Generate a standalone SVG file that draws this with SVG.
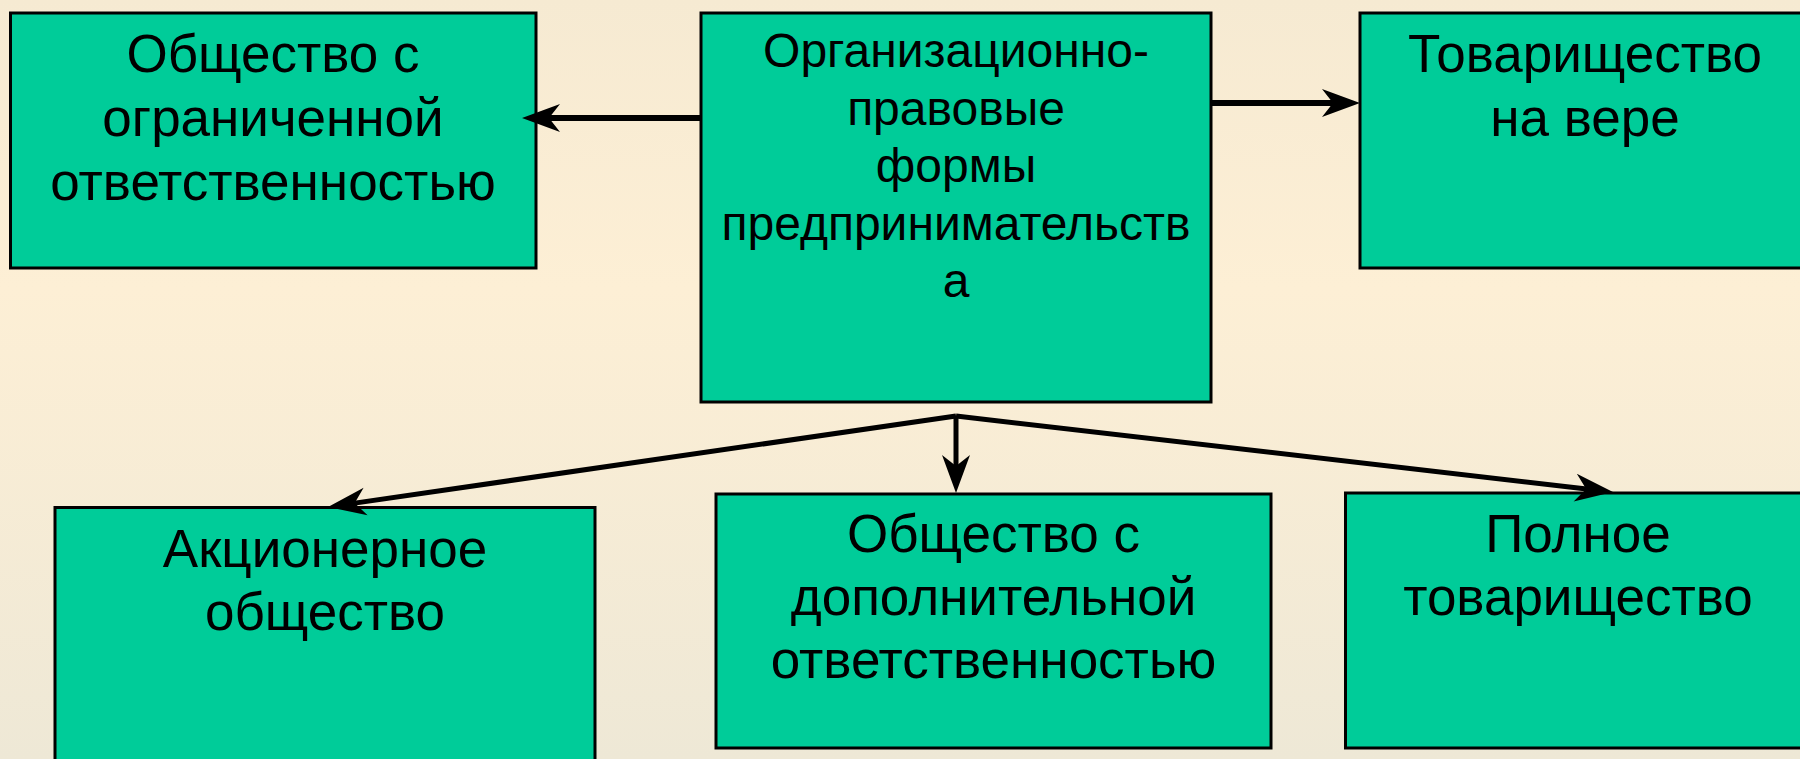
<svg xmlns="http://www.w3.org/2000/svg" width="1800" height="759" viewBox="0 0 1800 759">
  <defs>
    <linearGradient id="bg" x1="0" y1="0" x2="0" y2="1">
      <stop offset="0" stop-color="#F6EAD2"/>
      <stop offset="0.38" stop-color="#FDEFD5"/>
      <stop offset="1" stop-color="#EEE8D6"/>
    </linearGradient>
    <marker id="arr" markerUnits="userSpaceOnUse" markerWidth="40" markerHeight="30" refX="18" refY="14" orient="auto" overflow="visible">
      <path d="M38,14 L0,0 L11,14 L0,28 Z" fill="#000"/>
    </marker>
    <style>
      .box { fill: #00CC99; stroke: #000; stroke-width: 3; }
      .t { font-family: "Liberation Sans", Arial, sans-serif; font-size: 53px; fill: #000; text-anchor: middle; }
      .tc { font-size: 48px; }
      .conn { stroke: #000; stroke-width: 5; fill: none; marker-end: url(#arr); }
      .h { stroke-width: 6; }
    </style>
  </defs>
  <rect x="0" y="0" width="1800" height="759" fill="url(#bg)"/>

  <g id="node-ooo">
    <rect class="box" x="10.5" y="13" width="525.5" height="255"/>
    <text class="t" x="273" y="72">Общество с</text>
    <text class="t" x="273" y="136">ограниченной</text>
    <text class="t" x="273" y="200">ответственностью</text>
  </g>

  <g id="node-center">
    <rect class="box" x="701" y="13" width="510" height="389"/>
    <text class="t tc" x="956" y="67">Организационно-</text>
    <text class="t tc" x="956" y="124.5">правовые</text>
    <text class="t tc" x="956" y="182">формы</text>
    <text class="t tc" x="956" y="239.5">предпринимательств</text>
    <text class="t tc" x="956" y="297">а</text>
  </g>

  <g id="node-tv">
    <rect class="box" x="1360" y="13" width="460" height="255"/>
    <text class="t" x="1585" y="72">Товарищество</text>
    <text class="t" x="1585" y="136">на вере</text>
  </g>

  <g id="node-ao">
    <rect class="box" x="55" y="507.5" width="540" height="270"/>
    <text class="t" x="325" y="567">Акционерное</text>
    <text class="t" x="325" y="630">общество</text>
  </g>

  <g id="node-odo">
    <rect class="box" x="716" y="494" width="555" height="254"/>
    <text class="t" x="993.5" y="552">Общество с</text>
    <text class="t" x="993.5" y="615">дополнительной</text>
    <text class="t" x="993.5" y="678">ответственностью</text>
  </g>

  <g id="node-pt">
    <rect class="box" x="1345.5" y="493" width="470" height="255"/>
    <text class="t" x="1578" y="552">Полное</text>
    <text class="t" x="1578" y="615">товарищество</text>
  </g>

  <g id="connectors">
    <line class="conn h" x1="701" y1="118" x2="542" y2="118"/>
    <line class="conn h" x1="1211" y1="103" x2="1340" y2="103"/>
    <line class="conn" x1="956" y1="416" x2="347.8" y2="504.1"/>
    <line class="conn" x1="956" y1="416" x2="956" y2="473"/>
    <line class="conn" x1="956" y1="416" x2="1593.1" y2="489.7"/>
  </g>
</svg>
